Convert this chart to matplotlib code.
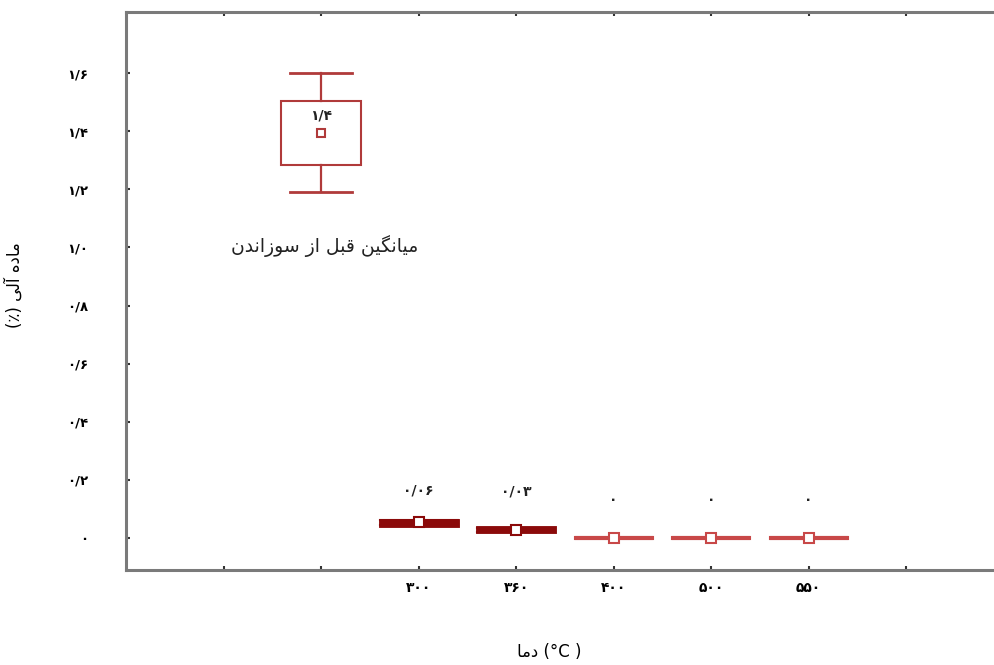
import numpy as np
import matplotlib.pyplot as plt

# Persian text helper (matplotlib has no Arabic shaping / RTL)
FORMS = {
    'ا': ('\uFE8D', '\uFE8E', None, None),
    'آ': ('\uFE81', '\uFE82', None, None),
    'ب': ('\uFE8F', '\uFE90', '\uFE91', '\uFE92'),
    'د': ('\uFEA9', '\uFEAA', None, None),
    'ز': ('\uFEAF', '\uFEB0', None, None),
    'س': ('\uFEB1', '\uFEB2', '\uFEB3', '\uFEB4'),
    'ق': ('\uFED5', '\uFED6', '\uFED7', '\uFED8'),
    'ل': ('\uFEDD', '\uFEDE', '\uFEDF', '\uFEE0'),
    'م': ('\uFEE1', '\uFEE2', '\uFEE3', '\uFEE4'),
    'ن': ('\uFEE5', '\uFEE6', '\uFEE7', '\uFEE8'),
    'ه': ('\uFEE9', '\uFEEA', '\uFEEB', '\uFEEC'),
    'و': ('\uFEED', '\uFEEE', None, None),
    'ی': ('\uFBFC', '\uFBFD', '\uFBFE', '\uFBFF'),
    'گ': ('\uFB92', '\uFB93', '\uFB94', '\uFB95'),
}


def fa(text):
    out = []
    for i, ch in enumerate(text):
        if ch not in FORMS:
            out.append(ch)
            continue
        prev = text[i - 1] if i > 0 else ''
        nxt = text[i + 1] if i + 1 < len(text) else ''
        jp = prev in FORMS and FORMS[prev][2] is not None
        jn = FORMS[ch][2] is not None and nxt in FORMS
        iso, fin, ini, med = FORMS[ch]
        out.append(med if jp and jn else fin if jp else ini if jn else iso)
    return ''.join(out)[::-1].translate(str.maketrans('()', ')('))


# data
positions = [2, 3, 4, 5, 6, 7]
whislo = [1.19, 0.045, 0.022, -0.003, -0.003, -0.003]
q1 = [1.285, 0.046, 0.023, -0.003, -0.003, -0.003]
means = [1.395, 0.054, 0.028, 0.0, 0.0, 0.0]
q3 = [1.505, 0.060, 0.035, 0.003, 0.003, 0.003]
whishi = [1.60, 0.061, 0.036, 0.003, 0.003, 0.003]
value_labels = ['۱/۴', '۰/۰۶', '۰/۰۳', '۰', '۰', '۰']
label_y = [1.455, 0.165, 0.16, 0.13, 0.13, 0.13]

xtick_pos = [3, 4, 5, 6, 7]
xtick_labels = ['۳۰۰', '۳۶۰', '۴۰۰', '۵۰۰', '۵۵۰']
ytick_vals = [0, 0.2, 0.4, 0.6, 0.8, 1.0, 1.2, 1.4, 1.6]
ytick_labels = ['۰', '۰/۲', '۰/۴', '۰/۶', '۰/۸', '۱/۰', '۱/۲', '۱/۴', '۱/۶']

fig = plt.figure(figsize=(9.94, 6.65), dpi=100)
ax = fig.add_axes([0.1268, 0.1429, 0.8732, 0.8391])

box_colors = ['#b03a3a', '#8b0a0a', '#8b0a0a', '#c84848', '#c84848', '#c84848']
for i in range(len(positions)):
    st = [dict(whislo=whislo[i], q1=q1[i], med=means[i], q3=q3[i],
               whishi=whishi[i], mean=means[i], fliers=[])]
    thick = i in (1, 2)
    c = box_colors[i]
    ax.bxp(st, positions=[positions[i]], widths=0.82 if i == 0 else 0.78,
           capwidths=0.63 if i == 0 else 0.8,
           showmeans=True, patch_artist=True,
           boxprops=dict(facecolor=c if thick else 'white', edgecolor=c,
                         linewidth=3.5 if thick else 1.5),
           whiskerprops=dict(color=c, linewidth=1.6),
           capprops=dict(color=c, linewidth=2 if i == 0 else 1.5),
           medianprops=dict(linewidth=0),
           meanprops=dict(marker='s', markerfacecolor='white',
                          markeredgecolor=c, markersize=6 if i == 0 else 7,
                          markeredgewidth=1.5))
    ax.text(positions[i], label_y[i], value_labels[i], ha='center', va='center',
            fontsize=10, fontweight='bold', color='#222222')

ax.text(2.04, 1.005, fa('میانگین قبل از سوزاندن'), ha='center', va='center',
        fontsize=13.5, family='DejaVu Sans', color='#222222')

ax.set_xlim(0, 8.9)
ax.set_ylim(-0.11, 1.81)

ax.set_xticks(xtick_pos)
ax.set_xticklabels(xtick_labels, fontsize=10, fontweight='bold')
ax.set_xticks(range(1, 9), minor=True)
ax.set_yticks(ytick_vals)
ax.set_yticklabels(ytick_labels, fontsize=9.5, fontweight='bold')

ax.tick_params(axis='both', which='both', direction='in', length=3, width=1.5,
               color='#333333', top=True)
ax.tick_params(axis='y', pad=27)
ax.tick_params(axis='x', which='major', pad=8)

for side in ['left', 'top', 'bottom']:
    ax.spines[side].set_color('#7a7a7a')
    ax.spines[side].set_linewidth(2.2)
ax.spines['right'].set_visible(False)

ax.set_xlabel(fa('دما') + ' (°C )', fontsize=12)
ax.xaxis.set_label_coords(0.488, -0.13)
ax.set_ylabel(fa('ماده آلی (٪)'), fontsize=12)
ax.yaxis.set_label_coords(-0.118, 0.51)

plt.savefig('out.png', dpi=100)
